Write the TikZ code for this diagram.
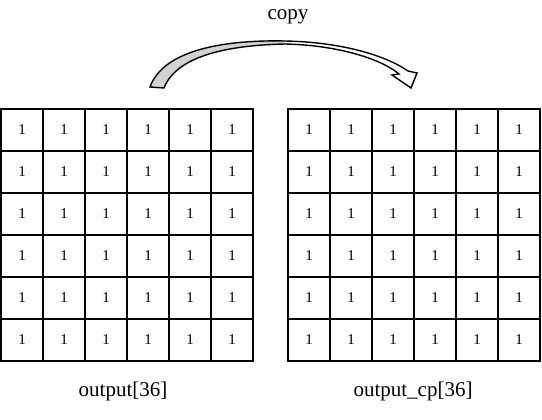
\documentclass[tikz,border=0pt]{standalone}
\usepackage{fontspec}
\setmainfont{Liberation Serif}
\begin{document}
\begin{tikzpicture}[x=1pt,y=-1pt,
  cell/.style={draw=black,line width=1.6pt,minimum size=42pt,inner sep=0pt,font=\fontsize{15}{15}\selectfont},
  lbl/.style={font=\fontsize{21}{21}\selectfont,inner sep=0pt}]
\useasboundingbox (0,0) rectangle (542,420);
\fill[white] (0,0) rectangle (542,420);
% grids
\foreach \i in {1,...,6}{
  \foreach \j in {1,...,6}{
    \node[cell] (L-\i-\j) at ({1+42*(\j-0.5)},{109+42*(\i-0.5)}) {1};
    \node[cell] (R-\i-\j) at ({288+42*(\j-0.5)},{109+42*(\i-0.5)}) {1};
  }
}
% labels
\node[lbl] (lout) at (123,391) {output[36]};
\node[lbl] (rout) at (413,391) {output\_cp[36]};
\node[lbl,anchor=base] (copy) at (288,20) {copy};
% curved ribbon arrow
\def\arrowpath{(150,87) .. controls (165,45) and (240,40) .. (285,41)
  .. controls (340,42) and (385,55) .. (408,71) -- (417,73) -- (411,88) -- (392,75) -- (399,74)
  .. controls (380,58) and (335,45) .. (285,44)
  .. controls (240,45) and (178,52) .. (164,88) -- cycle}
\fill[white] \arrowpath;
\begin{scope}
  \clip (0,0) rectangle (285,100);
  \fill[gray!35] \arrowpath;
\end{scope}
\draw[line width=1.4pt,line join=miter] \arrowpath;
\end{tikzpicture}
\end{document}
